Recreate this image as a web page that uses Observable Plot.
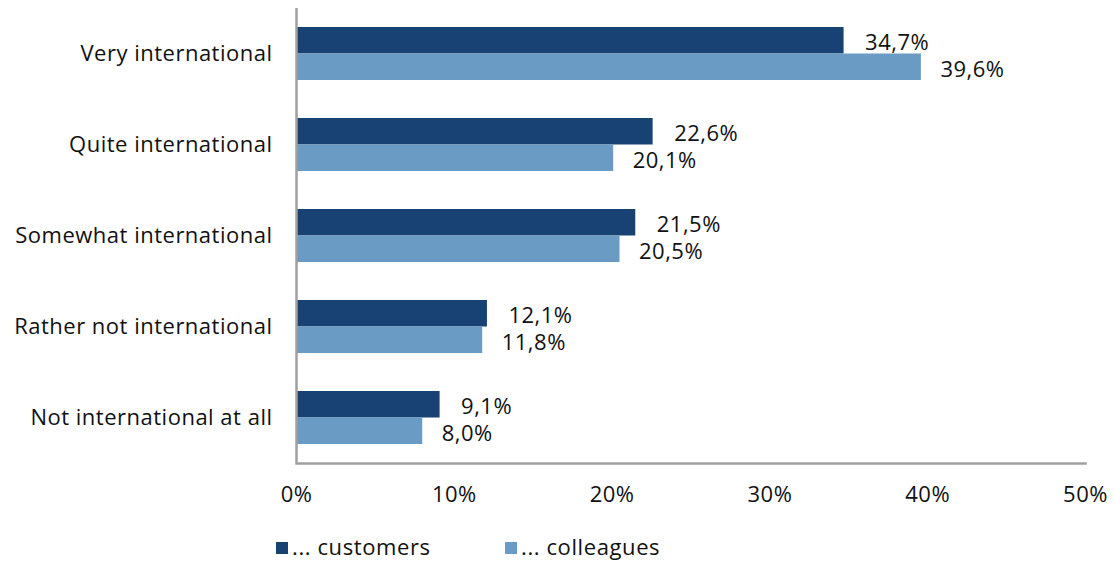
<!DOCTYPE html>
<html>
<head>
<meta charset="utf-8">
<script src="https://cdn.jsdelivr.net/npm/d3@7"></script>
<script src="https://cdn.jsdelivr.net/npm/@observablehq/plot@0.6"></script>
<style>
  body { margin: 0; background: #fff; font-family: "Open Sans", sans-serif; }
  #wrap { position: relative; width: 1115px; height: 563px; }
  .legend { position: absolute; top: 531px; left: 0; font-size: 22px; letter-spacing: 0.6px; color: #111; }
  .legend span.item { position: absolute; white-space: nowrap; }
  .legend i { display: inline-block; width: 12px; height: 12px; margin-right: 4px; vertical-align: 1px; }
</style>
</head>
<body>
<div id="wrap"></div>
<script>
const categories = ["Very international", "Quite international", "Somewhat international", "Rather not international", "Not international at all"];
const customers = [34.7, 22.6, 21.5, 12.1, 9.1];
const colleagues = [39.6, 20.1, 20.5, 11.8, 8.0];
const seriesNames = ["... customers", "... colleagues"];
const seriesColors = ["#174273", "#6a9bc4"];
const xTicks = [0, 10, 20, 30, 40, 50];

const rows = categories.flatMap((c, i) => [
  {cat: c, series: seriesNames[0], v: customers[i]},
  {cat: c, series: seriesNames[1], v: colleagues[i]}
]);
const cust = rows.filter(d => d.series === seriesNames[0]);
const coll = rows.filter(d => d.series === seriesNames[1]);
const fmt = v => v.toFixed(1).replace(".", ",") + "%";

const chart = Plot.plot({
  width: 1115,
  height: 520,
  marginLeft: 296,
  marginRight: 30,
  marginTop: 8,
  marginBottom: 57,
  style: {fontFamily: "'Open Sans', sans-serif", fontSize: "22px", letterSpacing: "0.5px", color: "#111", background: "#fff"},
  x: {domain: [0, 50]},
  y: {domain: categories, paddingInner: 0.418, paddingOuter: 0.209},
  marks: [
    Plot.barX(cust, {y: "cat", x: "v", fill: seriesColors[0], insetBottom: 26.5}),
    Plot.barX(coll, {y: "cat", x: "v", fill: seriesColors[1], insetTop: 26.5}),
    Plot.text(cust, {y: "cat", x: "v", text: d => fmt(d.v), textAnchor: "start", dx: 21, dy: -11.5, fill: "#111", fontSize: 22}),
    Plot.text(coll, {y: "cat", x: "v", text: d => fmt(d.v), textAnchor: "start", dx: 19, dy: 15.5, fill: "#111", fontSize: 22}),
    Plot.ruleX([0], {stroke: "#a0a0a0", strokeWidth: 2.5}),
    Plot.frame({anchor: "bottom", stroke: "#a0a0a0", strokeWidth: 2.5}),
    Plot.axisX({ticks: xTicks, tickFormat: d => d + "%", tickSize: 0, tickPadding: 23, label: null, fontSize: 22}),
    Plot.axisY({tickSize: 0, tickPadding: 24, label: null, fontSize: 22})
  ]
});
const wrap = document.getElementById("wrap");
wrap.appendChild(chart);

const legend = document.createElement("div");
legend.className = "legend";
const lx = [276, 505];
seriesNames.forEach((s, i) => {
  const item = document.createElement("span");
  item.className = "item";
  item.style.left = lx[i] + "px";
  item.innerHTML = `<i style="background:${seriesColors[i]}"></i>${s}`;
  legend.appendChild(item);
});
wrap.appendChild(legend);
</script>
</body>
</html>
